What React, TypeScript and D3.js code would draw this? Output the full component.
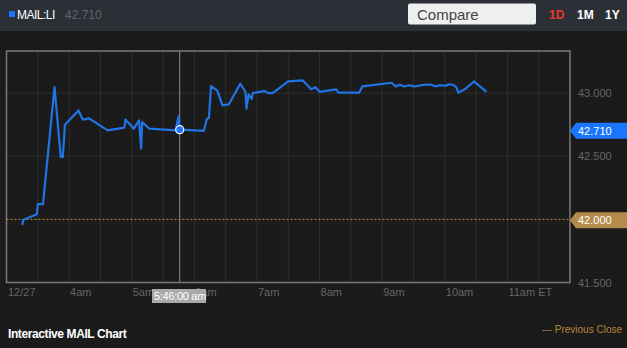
import React from "react";
import * as d3 from "d3";

const times = ["03:15","03:16","03:29","03:30","03:35","03:46","03:52","03:54","03:56","04:09","04:13","04:19","04:37","04:53","04:54","05:02","05:07","05:09","05:10","05:17","05:42","05:45","05:46","06:09","06:12","06:14","06:16","06:22","06:27","06:33","06:44","06:49","06:50","06:52","06:55","06:56","07:07","07:11","07:15","07:30","07:44","07:52","07:56","08:00","08:16","08:18","08:38","08:41","09:09","09:13","09:17","09:21","09:26","09:31","09:36","09:42","09:47","09:51","09:55","10:01","10:04","10:08","10:11","10:13","10:20","10:28","10:40"];
const prices = [41.955,41.995,42.04,42.12,42.12,43.047,42.495,42.495,42.75,42.863,42.79,42.8,42.705,42.727,42.79,42.718,42.784,42.56,42.77,42.718,42.705,42.818,42.71,42.7,42.795,42.805,43.055,43.02,42.903,42.91,43.074,43.01,42.877,42.99,42.955,43.0,43.016,43.0,43.0,43.092,43.1,43.03,43.047,43.01,43.03,43.003,43.003,43.053,43.082,43.053,43.066,43.052,43.062,43.052,43.06,43.068,43.066,43.052,43.062,43.058,43.07,43.066,43.047,43.003,43.035,43.092,43.01];
const xTickTimes = ["03:00","04:00","05:00","06:00","07:00","08:00","09:00","10:00","11:00"];
const xTickLabels = ["12/27","4am","5am","6am","7am","8am","9am","10am","11am ET"];
const yTicks = [41.5, 42.0, 42.5, 43.0];
const lastPrice = 42.71;
const prevClose = 42.0;
const crossTime = "05:46";
const crossLabel = "5:46:00 am";

const parse = (s: string) => {
  const [h, m] = s.split(":").map(Number);
  return new Date(2013, 11, 27, h, m);
};

export default function App() {
  const W = 627, H = 348;
  const left = 6.5, right = 570, top = 51, bottom = 282.5;
  const x = d3.scaleTime().domain([parse("03:00"), parse("12:00")]).range([left, right]);
  const y = d3.scaleLinear().domain([41.5, 43.3333]).range([bottom, top]);
  const data = times.map((t, i) => ({ t: parse(t), v: prices[i] }));
  const line = d3.line<{ t: Date; v: number }>().x(d => x(d.t)).y(d => y(d.v));
  const grid = d3.timeMinute.every(30)!.range(parse("03:30"), parse("12:00"));
  const font = "Arial, 'Liberation Sans', sans-serif";
  const cx = x(parse(crossTime));
  const cy = y(lastPrice);
  const badge = (v: number, fill: string, label: string) => {
    const yc = y(v) + 1;
    const h = 8;
    return (
      <g>
        <path d={`M${right},${yc} L${right + 6},${yc - h} L${W},${yc - h} L${W},${yc + h} L${right + 6},${yc + h} Z`} fill={fill} />
        <text x={578} y={yc + 4} fill="#fff" fontSize={11} fontFamily={font}>{label}</text>
      </g>
    );
  };
  return (
    <div style={{ position: "fixed", left: 0, top: 0 }}>
      <svg width={W} height={H} style={{ display: "block" }}>
        <rect width={W} height={H} fill="#1b1b1b" />
        <rect width={W} height={31} fill="#2b2f36" />
        <rect x={9} y={11} width={6} height={6} fill="#1a75ff" />
        <text x={17} y={19} fill="#fff" fontSize={12} fontFamily={font} letterSpacing={-0.5}>MAIL:LI</text>
        <text x={65} y={19} fill="#5f646c" fontSize={12} fontFamily={font}>42.710</text>
        <rect x={408} y={3.5} width={128} height={21} rx={2} fill="#efefef" />
        <text x={417} y={19.5} fill="#444" fontSize={15} fontFamily={font}>Compare</text>
        <text x={549} y={19} fill="#e8382f" fontSize={12} fontWeight="bold" fontFamily={font}>1D</text>
        <text x={577} y={19} fill="#fff" fontSize={12} fontWeight="bold" fontFamily={font}>1M</text>
        <text x={605} y={19} fill="#fff" fontSize={12} fontWeight="bold" fontFamily={font}>1Y</text>

        {grid.map((g, i) => (
          <line key={i} x1={x(g)} x2={x(g)} y1={top} y2={bottom} stroke="#2f2f2f" />
        ))}
        {yTicks.filter(v => v > 41.5 && v !== prevClose).map((v, i) => (
          <line key={i} x1={left} x2={right} y1={y(v)} y2={y(v)} stroke="#2f2f2f" />
        ))}
        <rect x={left} y={top} width={right - left} height={bottom - top} fill="none" stroke="#7a7a7a" strokeWidth={1.5} />
        {yTicks.map((v, i) => (
          <text key={i} x={578} y={y(v) + 4} fill="#666" fontSize={11} fontFamily={font}>{v.toFixed(3)}</text>
        ))}
        {xTickTimes.map((t, i) => (
          <text key={i} x={x(parse(t)) + (i === 0 ? 1.5 : 1)} y={296} fill="#666" fontSize={11} fontFamily={font}>{xTickLabels[i]}</text>
        ))}
        <line x1={left} x2={right} y1={y(prevClose)} y2={y(prevClose)} stroke="#c8913e" strokeDasharray="2,2" />
        <line x1={cx} x2={cx} y1={top} y2={bottom} stroke="#8a8a8a" />
        <path d={line(data) || ""} fill="none" stroke="#1f74e6" strokeWidth={2.2} strokeLinejoin="round" />
        <circle cx={cx} cy={cy} r={4} fill="#1a75ff" stroke="#fff" strokeWidth={1.2} />
        {badge(lastPrice, "#1a75ff", "42.710")}
        {badge(prevClose, "#b58b4c", "42.000")}
        <rect x={152} y={289} width={54} height={14} fill="#a9a9a9" />
        <text x={154} y={300} fill="#fff" fontSize={11} fontFamily={font} letterSpacing={-0.3}>{crossLabel}</text>
        <text x={8} y={338} fill="#fff" fontSize={12} fontWeight="bold" fontFamily={font} letterSpacing={-0.4}>Interactive MAIL Chart</text>
        <text x={542} y={333} fill="#b8843c" fontSize={10} fontFamily={font}>--- Previous Close</text>
      </svg>
    </div>
  );
}
